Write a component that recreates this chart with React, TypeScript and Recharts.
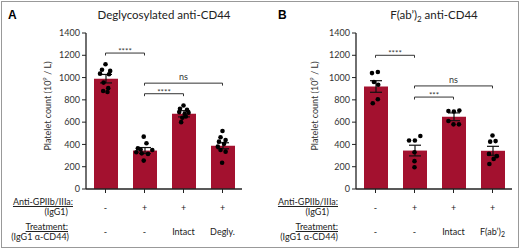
import React from 'react';
import {
  ComposedChart, Bar, ErrorBar, Scatter, XAxis, YAxis, ReferenceLine, Label,
} from 'recharts';

// groups on the x axis
const groups = ['ctrl', 'gp', 'intact', 'mod'];
const gpRow = ['-', '+', '+', '+'];
const treatRowA = ['-', '-', 'Intact', 'Degly.'];
const treatRowB = ['-', '-', 'Intact', 'F(ab’)₂'];
const yTicks = [0, 200, 400, 600, 800, 1000, 1200, 1400];

// panel A: deglycosylated anti-CD44
const meanA = [990, 345, 675, 388];
const semA = [38, 27, 28, 27];
const dotsA = [
  [1120, 1070, 1060, 1035, 1030, 955, 905, 880, 870],
  [470, 410, 365, 355, 350, 330, 320, 315, 255],
  [750, 720, 710, 690, 685, 675, 650, 640, 600],
  [520, 465, 440, 425, 405, 380, 350, 335, 235],
];
const jitterA = [
  [0, -0.09, 0.12, -0.14, 0.09, -0.05, 0.07, -0.06, 0.05],
  [-0.02, 0.05, -0.17, -0.1, 0.2, -0.21, -0.07, 0.09, -0.02],
  [0, -0.09, 0.09, -0.11, 0.13, 0.03, 0.06, -0.03, -0.06],
  [0, -0.05, 0.08, -0.09, 0.04, -0.12, -0.05, 0.08, -0.01],
];
const bracketsA = [
  { from: 1, to: 2, y: 1220, label: '****' },
  { from: 2, to: 4, y: 950, label: 'ns' },
  { from: 2, to: 3, y: 855, label: '****' },
];

// panel B: F(ab')2 anti-CD44
const meanB = [920, 345, 648, 343];
const semB = [52, 48, 35, 40];
const dotsB = [
  [1050, 1040, 960, 935, 805, 770],
  [475, 435, 435, 330, 250, 195],
  [705, 700, 695, 610, 580, 580],
  [480, 430, 425, 315, 295, 270, 225],
];
const jitterB = [
  [0.06, -0.09, -0.04, 0.07, 0.06, -0.07],
  [0.15, -0.14, 0.01, 0, 0, 0],
  [0.15, -0.13, 0.01, -0.13, 0, 0.14],
  [0, 0.08, -0.06, -0.09, 0.11, 0.03, -0.08],
];
const bracketsB = [
  { from: 1, to: 2, y: 1200, label: '****' },
  { from: 2, to: 4, y: 925, label: 'ns' },
  { from: 2, to: 3, y: 825, label: '***' },
];

const BAR = '#a3112f';
const INK = '#222';

const RowTick = (props: any) => {
  const { x, y, index, treat } = props;
  const t: string = treat[index];
  const sub = t.endsWith('₂');
  return (
    <g fontSize={9} fill={INK}>
      <text x={x} y={y + 16} textAnchor="middle" fill={INK}>{gpRow[index]}</text>
      <text x={x} y={y + 40} textAnchor="middle" fill={INK}>
        {sub ? t.slice(0, -1) : t}
        {sub && <tspan fontSize={7} dy={2}>2</tspan>}
      </text>
    </g>
  );
};

const dot = (p: any) => <circle cx={p.cx} cy={p.cy} r={2.3} fill="#000" />;

const yLabel = (shift: number) => (p: any) => {
  const vb = p.viewBox;
  const cx = vb.x + vb.width / 2 + shift;
  const cy = vb.y + vb.height / 2 - 5;
  return (
    <text x={cx} y={cy} transform={`rotate(-90 ${cx} ${cy})`} textAnchor="middle"
      dominantBaseline="central" fontSize={9} fill="#333">
      Platelet count (10<tspan fontSize={6} dy={-3.5}>9</tspan>
      <tspan dy={3.5}> / L)</tspan>
    </text>
  );
};

const Panel = ({ mean, sem, dots, jitter, brackets, treat, axisWidth, right, shift }: any) => {
  const rows = groups.map((g, i) => ({ name: g, mean: mean[i], sem: sem[i] }));
  const pts = dots.flatMap((vals: number[], i: number) =>
    vals.map((v, j) => ({ x: i + 1 + jitter[i][j], y: v })));
  return (
    <ComposedChart width={260} height={251} data={rows}
      margin={{ top: 33, right, bottom: 7, left: 0 }}>
      <XAxis dataKey="name" height={55} tickSize={4} interval={0}
        axisLine={{ stroke: INK, strokeWidth: 1.3 }} tickLine={{ stroke: INK }}
        tick={(p: any) => <RowTick {...p} treat={treat} />} />
      <XAxis xAxisId="num" type="number" dataKey="x" domain={[0.5, 4.5]} hide />
      <YAxis width={axisWidth} domain={[0, 1400]} ticks={yTicks} tickSize={4}
        axisLine={{ stroke: INK, strokeWidth: 1.3 }} tickLine={{ stroke: INK }}
        tick={{ fontSize: 9, fill: '#333' }}>
        <Label position="center" content={yLabel(shift)} />
      </YAxis>
      <Bar dataKey="mean" fill={BAR} barSize={24} isAnimationActive={false}>
        <ErrorBar dataKey="sem" width={6} stroke="#111" strokeWidth={1.2} />
      </Bar>
      <Scatter xAxisId="num" data={pts} dataKey="y" shape={dot} isAnimationActive={false} />
      {brackets.map((b: any, k: number) => (
        <React.Fragment key={k}>
          <ReferenceLine xAxisId="num" segment={[{ x: b.from, y: b.y }, { x: b.to, y: b.y }]}
            stroke="#333" strokeWidth={1}
            label={{ value: b.label, position: 'top', offset: b.label === 'ns' ? 3 : -1,
              style: { fontSize: b.label === 'ns' ? 9 : 8, fill: '#333' } }} />
          <ReferenceLine xAxisId="num" segment={[{ x: b.from, y: b.y }, { x: b.from, y: b.y - 22 }]}
            stroke="#333" strokeWidth={1} />
          <ReferenceLine xAxisId="num" segment={[{ x: b.to, y: b.y }, { x: b.to, y: b.y - 22 }]}
            stroke="#333" strokeWidth={1} />
        </React.Fragment>
      ))}
    </ComposedChart>
  );
};

const txt = (s: string, right: number, cy: number, underline = false) => (
  <div style={{
    position: 'absolute', right: 520 - right, top: cy - 6, lineHeight: '12px',
    fontSize: 9, color: INK, whiteSpace: 'nowrap',
    textDecoration: underline ? 'underline' : 'none',
  }}>{s}</div>
);

export default function App() {
  return (
    <div style={{ position: 'absolute', left: 0, top: 0, width: 520, height: 251,
      background: '#fff', fontFamily: 'Lato, sans-serif' }}>
      <div style={{ position: 'absolute', left: 1, top: 1, width: 518, height: 247,
        border: '1px solid #999', boxSizing: 'border-box' }} />
      <div style={{ position: 'absolute', left: 0, top: 0 }}>
        <Panel mean={meanA} sem={semA} dots={dotsA} jitter={jitterA} brackets={bracketsA}
          treat={treatRowA} axisWidth={86} right={18} shift={4} />
      </div>
      <div style={{ position: 'absolute', left: 260, top: 0 }}>
        <Panel mean={meanB} sem={semB} dots={dotsB} jitter={jitterB} brackets={bracketsB}
          treat={treatRowB} axisWidth={96} right={8} shift={6} />
      </div>
      <div style={{ position: 'absolute', left: 8, top: 8, fontSize: 12, fontWeight: 700,
        fontFamily: 'Liberation Sans, Arial, sans-serif', lineHeight: '14px' }}>A</div>
      <div style={{ position: 'absolute', left: 278, top: 8, fontSize: 12, fontWeight: 700,
        fontFamily: 'Liberation Sans, Arial, sans-serif', lineHeight: '14px' }}>B</div>
      <div style={{ position: 'absolute', left: 86, width: 156, top: 8, textAlign: 'center',
        fontSize: 11.5, lineHeight: '14px', color: INK }}>Deglycosylated anti-CD44</div>
      <div style={{ position: 'absolute', left: 356, width: 156, top: 8, textAlign: 'center',
        fontSize: 11.5, lineHeight: '14px', color: INK }}>
        F(ab’)<span style={{ fontSize: 8, position: 'relative', top: 3 }}>2</span> anti-CD44
      </div>
      {txt('Anti-GPIIb/IIIa:', 73, 202, true)}
      {txt('(IgG1)', 68, 212)}
      {txt('Treatment:', 68, 227, true)}
      {txt('(IgG1 α-CD44)', 69, 237)}
      {txt('Anti-GPIIb/IIIa:', 338, 202, true)}
      {txt('(IgG1)', 329, 212)}
      {txt('Treatment:', 338, 227, true)}
      {txt('(IgG1 α-CD44)', 338, 237)}
    </div>
  );
}
